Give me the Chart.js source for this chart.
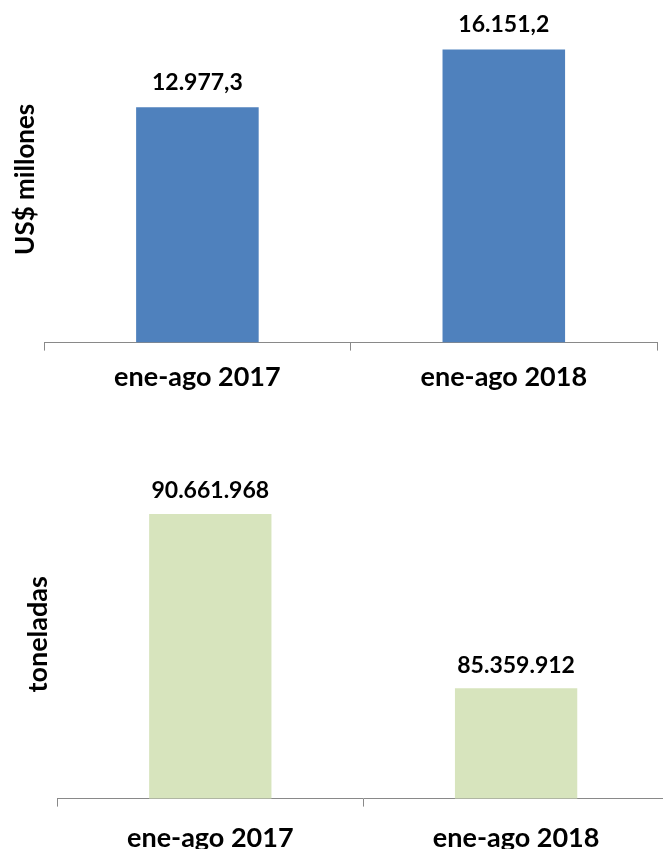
<!DOCTYPE html>
<html>
<head>
<meta charset="utf-8">
<script src="https://cdn.jsdelivr.net/npm/chart.js@4"></script>
<style>
  html, body { margin: 0; padding: 0; background: #fff; overflow: hidden; width: 663px; height: 849px; }
  .box { position: absolute; left: 0; }
  #topBox { top: 0; width: 663px; height: 411px; }
  #botBox { top: 430px; width: 675px; height: 447px; }
</style>
</head>
<body>
<div class="box" id="topBox"><canvas id="valueChart"></canvas></div>
<div class="box" id="botBox"><canvas id="volumeChart"></canvas></div>
<script>
/* ── Data ── */
const periods = ['ene-ago 2017', 'ene-ago 2018'];
const valueUSD = [12977.3, 16151.2];       // US$ millones
const volumeTons = [90661968, 85359912];   // toneladas

const COLORS = {
  blue: '#4f81bd',
  green: '#d7e4bd',
  axis: '#898989',
  text: '#000000',
};

const FONT = "Lato, 'Open Sans', sans-serif";

// Spanish number format: 12.977,3 / 90.661.968
function fmtEs(v, decimals) {
  const parts = v.toFixed(decimals).split('.');
  const int = parts[0].replace(/\B(?=(\d{3})+(?!\d))/g, '.');
  return parts[1] ? int + ',' + parts[1] : int;
}

/* ── Bar value labels ── */
const valueLabels = {
  id: 'valueLabels',
  afterDatasetsDraw(chart, args, opts) {
    const ctx = chart.ctx;
    const meta = chart.getDatasetMeta(0);
    const data = chart.data.datasets[0].data;
    ctx.save();
    ctx.font = 'bold ' + opts.size + 'px ' + FONT;
    ctx.fillStyle = COLORS.text;
    ctx.textAlign = 'center';
    ctx.textBaseline = 'middle';
    meta.data.forEach((bar, i) => {
      ctx.fillText(fmtEs(data[i], opts.decimals), bar.x, bar.y - opts.offset);
    });
    ctx.restore();
  },
};

function xScale(pad) {
  return {
    offset: true,
    grid: { display: true, drawOnChartArea: false, drawTicks: true, tickLength: 8, color: COLORS.axis, offset: true },
    border: { display: true, color: COLORS.axis, width: 1 },
    ticks: { color: COLORS.text, padding: pad, maxRotation: 0, font: { family: FONT, size: 27, weight: 'bold' } },
  };
}

function yScale(min, max, title, size, titlePadTop, titlePadBottom) {
  return {
    min, max,
    grid: { display: false, drawTicks: false },
    border: { display: false },
    ticks: { display: false },
    title: {
      display: true,
      text: title,
      color: COLORS.text,
      font: { family: FONT, size: size, weight: 'bold', lineHeight: 1.2 },
      padding: { top: titlePadTop, bottom: titlePadBottom },
    },
  };
}

/* ── Value chart (US$) ── */
new Chart(document.getElementById('valueChart'), {
  type: 'bar',
  data: {
    labels: periods,
    datasets: [{
      data: valueUSD,
      backgroundColor: COLORS.blue,
      barPercentage: 0.4,
      categoryPercentage: 1,
    }],
  },
  options: {
    responsive: true,
    maintainAspectRatio: false,
    animation: false,
    layout: { padding: { left: 0, right: 6, top: 16, bottom: 8 } },
    plugins: {
      legend: { display: false },
      tooltip: { enabled: false },
      valueLabels: { size: 23, decimals: 1, offset: 25 },
    },
    scales: {
      x: xScale(10),
      y: yScale(0, 18000, 'US$ millones', 26, 10, 3),
    },
  },
  plugins: [valueLabels],
});

/* ── Volume chart (toneladas) ── */
new Chart(document.getElementById('volumeChart'), {
  type: 'bar',
  data: {
    labels: periods,
    datasets: [{
      data: volumeTons,
      backgroundColor: COLORS.green,
      barPercentage: 0.4,
      categoryPercentage: 1,
    }],
  },
  options: {
    responsive: true,
    maintainAspectRatio: false,
    animation: false,
    layout: { padding: { left: 0, right: 6, top: 40, bottom: 8 } },
    plugins: {
      legend: { display: false },
      tooltip: { enabled: false },
      valueLabels: { size: 23, decimals: 0, offset: 23 },
    },
    scales: {
      x: xScale(15),
      y: yScale(82000000, 92000000, 'toneladas', 27, 22, 3),
    },
  },
  plugins: [valueLabels],
});
</script>
</body>
</html>
